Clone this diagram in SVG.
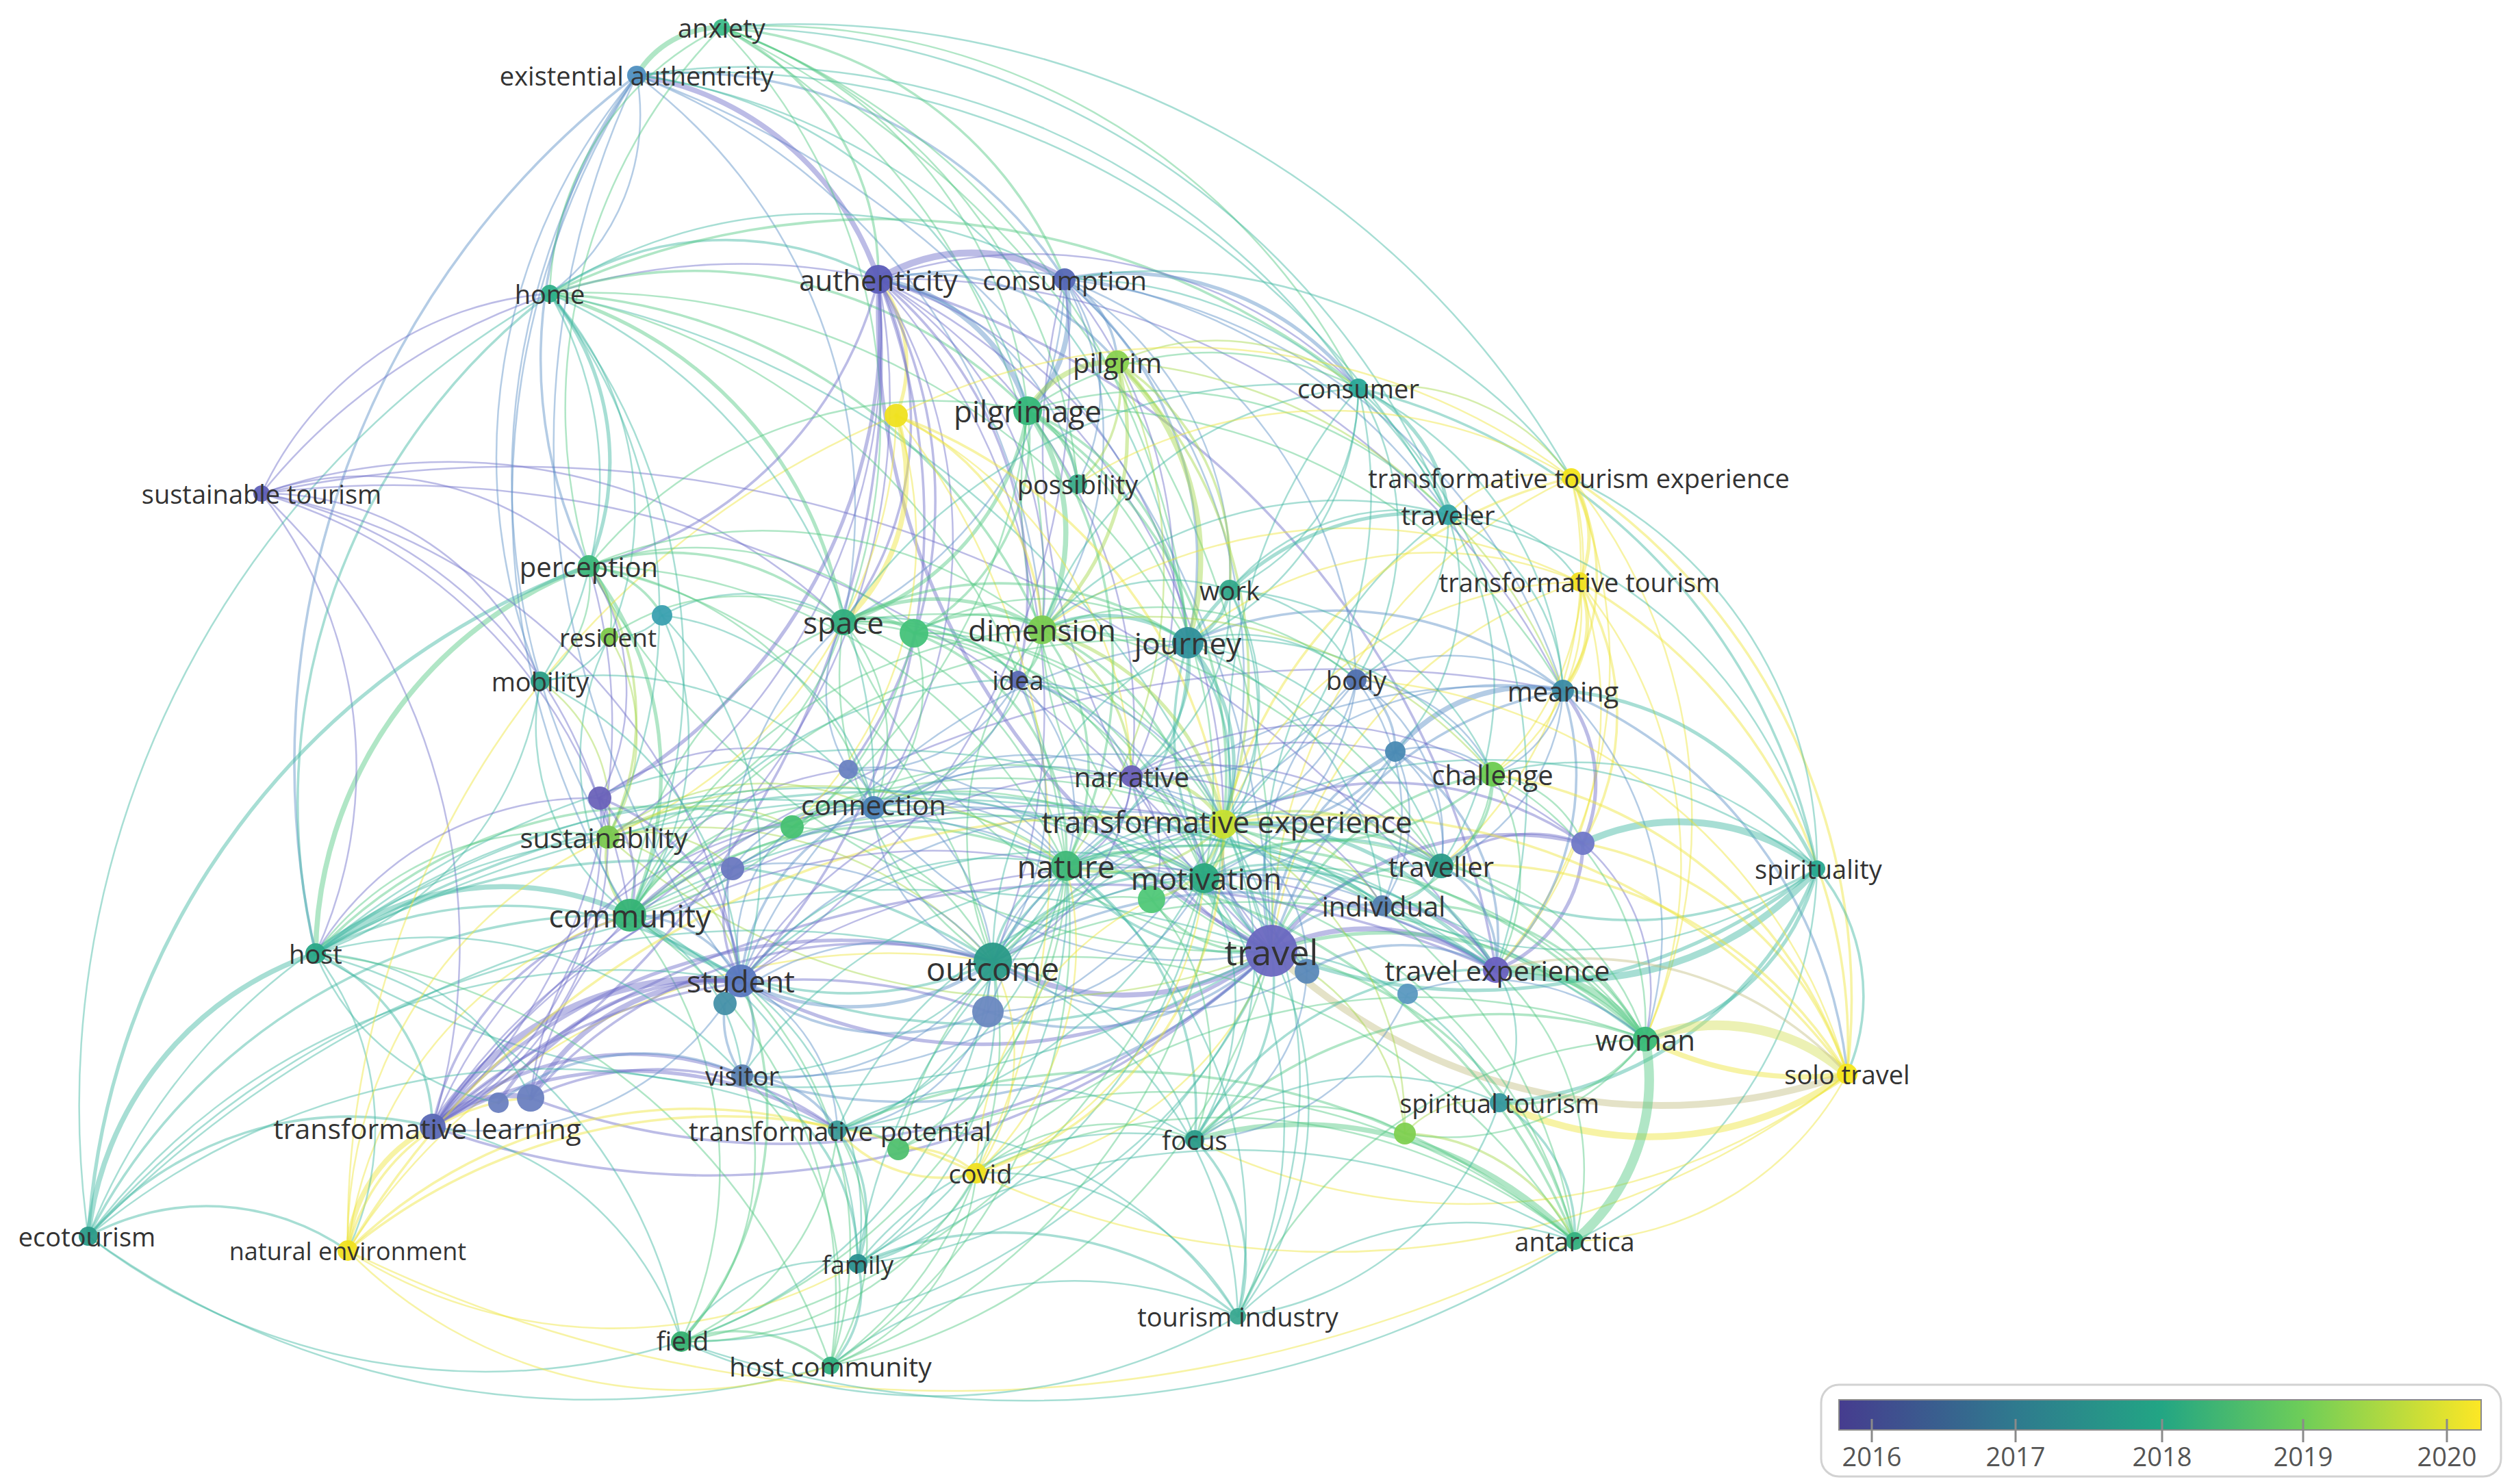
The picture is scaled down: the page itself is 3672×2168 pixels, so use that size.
<svg xmlns="http://www.w3.org/2000/svg" width="3672" height="2168" viewBox="0 0 3672 2168">
<defs>
<linearGradient id="vir" x1="0" y1="0" x2="1" y2="0">
<stop offset="0" stop-color="#463c8f"/>
<stop offset="0.275" stop-color="#2f7a8e"/>
<stop offset="0.5" stop-color="#22a584"/>
<stop offset="0.72" stop-color="#6dcd59"/>
<stop offset="1" stop-color="#fde725"/>
</linearGradient>
<style>
.e path{fill:none;stroke-linecap:round;stroke-opacity:.46}
.p{stroke:#6d6ec8}.b{stroke:#5b8fc6}.t{stroke:#3fb7a2}.g{stroke:#52c883}.l{stroke:#a3d84a}.y{stroke:#ede43a}.n{stroke:#c4bf86}.ly{stroke:#d6e15c}
.w1{stroke-width:2.5}.w2{stroke-width:3.6}.w3{stroke-width:5.2}.w4{stroke-width:7.5}.w5{stroke-width:10}.w6{stroke-width:14}
.nd circle{fill-opacity:.95}
.nd text{font-family:"Open Sans","DejaVu Sans",sans-serif;fill:#333;text-anchor:middle;dominant-baseline:central}
.lg text{font-family:"Open Sans","DejaVu Sans",sans-serif;fill:#555;font-size:38px;text-anchor:middle;dominant-baseline:central}
</style>
</defs>
<rect width="3672" height="2168" fill="#ffffff"/>
<g id="connectors" class="e">
<path class="p w4" d="M1857 1389A396 396 0 0 1 1450 1405"/>
<path class="p w4" d="M1857 1389A324 324 0 0 1 2185 1417"/>
<path class="b w3" d="M1857 1389A202 202 0 0 1 1787 1204"/>
<path class="t w3" d="M1857 1389A144 144 0 0 1 1759 1283"/>
<path class="t w2" d="M1857 1389A324 324 0 0 1 1557 1265"/>
<path class="p w3" d="M1857 1389A720 720 0 0 1 1082 1433"/>
<path class="t w2" d="M1857 1389A900 900 0 0 1 920 1337"/>
<path class="p w2" d="M1857 1389A1188 1188 0 0 1 632 1646"/>
<path class="g w3" d="M1857 1389A540 540 0 0 1 2403 1518"/>
<path class="n w5" d="M2698 1569A828 828 0 0 1 1857 1389"/>
<path class="t w3" d="M2654 1269A792 792 0 0 1 1857 1389"/>
<path class="b w2" d="M1857 1389A180 180 0 0 1 2019 1323"/>
<path class="t w2" d="M1857 1389A266 266 0 0 1 2105 1265"/>
<path class="b w1" d="M1857 1389A396 396 0 0 1 1981 993"/>
<path class="b w2" d="M1857 1389A540 540 0 0 1 2283 1009"/>
<path class="t w2" d="M1857 1389A432 432 0 0 1 1735 939"/>
<path class="g w1" d="M1857 1389A518 518 0 0 1 1522 920"/>
<path class="p w3" d="M1857 1389A1044 1044 0 0 1 1283 408"/>
<path class="p w1" d="M1857 1389A972 972 0 0 1 1555 408"/>
<path class="g w1" d="M1857 1389A792 792 0 0 1 1501 600"/>
<path class="t w2" d="M1857 1389A288 288 0 0 1 1745 1665"/>
<path class="g w2" d="M1857 1389A576 576 0 0 1 2300 1813"/>
<path class="t w1" d="M1857 1389A396 396 0 0 1 2190 1611"/>
<path class="t w1" d="M1857 1389A504 504 0 0 1 1808 1923"/>
<path class="b w2" d="M1857 1389A756 756 0 0 1 1084 1571"/>
<path class="t w1" d="M1857 1389A1332 1332 0 0 1 461 1393"/>
<path class="t w1" d="M129 1806A1656 1656 0 0 1 1857 1389"/>
<path class="t w1" d="M1857 1389A720 720 0 0 1 1253 1846"/>
<path class="y w1" d="M1857 1389A504 504 0 0 1 1426 1714"/>
<path class="l w1" d="M1857 1389A936 936 0 0 1 888 1223"/>
<path class="g w1" d="M1857 1389A1080 1080 0 0 1 860 827"/>
<path class="g w2" d="M1857 1389A403 403 0 0 1 2180 1131"/>
<path class="p w3" d="M1857 1389A446 446 0 0 1 2312 1232"/>
<path class="y w1" d="M1857 1389A756 756 0 0 1 2295 698"/>
<path class="y w1" d="M1857 1389A662 662 0 0 1 2307 850"/>
<path class="t w1" d="M1857 1389A792 792 0 0 1 1984 567"/>
<path class="t w1" d="M1857 1389A648 648 0 0 1 2115 752"/>
<path class="g w1" d="M1857 1389A756 756 0 0 1 1232 909"/>
<path class="b w1" d="M930 110A1404 1404 0 0 1 1857 1389"/>
<path class="t w1" d="M803 429A1368 1368 0 0 1 1857 1389"/>
<path class="g w1" d="M1054 40A1440 1440 0 0 1 1857 1389"/>
<path class="g w1" d="M1857 1389A828 828 0 0 1 1213 1995"/>
<path class="t w1" d="M1857 1389A936 936 0 0 1 995 1960"/>
<path class="b w2" d="M1857 1389A324 324 0 0 1 2038 1098"/>
<path class="p w2" d="M1857 1389A324 324 0 0 1 1653 1134"/>
<path class="b w2" d="M1857 1389A403 403 0 0 1 1443 1478"/>
<path class="g w2" d="M1857 1389A187 187 0 0 1 1682 1314"/>
<path class="b w1" d="M1857 1389A576 576 0 0 1 1276 1180"/>
<path class="p w2" d="M1857 1389A1044 1044 0 0 1 775 1604"/>
<path class="l w1" d="M1857 1389A324 324 0 0 1 2052 1656"/>
<path class="b w3" d="M1450 1405A360 360 0 0 1 1082 1433"/>
<path class="t w2" d="M1450 1405A504 504 0 0 1 920 1337"/>
<path class="t w2" d="M1450 1405A374 374 0 0 1 1787 1204"/>
<path class="t w2" d="M1450 1405A180 180 0 0 1 1557 1265"/>
<path class="p w3" d="M632 1646A792 792 0 0 1 1450 1405"/>
<path class="t w1" d="M1450 1405A310 310 0 0 1 1223 1651"/>
<path class="b w1" d="M1450 1405A374 374 0 0 1 1084 1571"/>
<path class="t w1" d="M1450 1405A461 461 0 0 1 1253 1846"/>
<path class="g w1" d="M1450 1405A590 590 0 0 1 1213 1995"/>
<path class="t w1" d="M1450 1405A670 670 0 0 1 995 1960"/>
<path class="t w1" d="M1450 1405A576 576 0 0 1 1808 1923"/>
<path class="t w1" d="M1450 1405A382 382 0 0 1 1745 1665"/>
<path class="b w1" d="M1450 1405A252 252 0 0 1 1276 1180"/>
<path class="g w1" d="M1450 1405A468 468 0 0 1 1522 920"/>
<path class="g w1" d="M1450 1405A504 504 0 0 1 1232 909"/>
<path class="p w1" d="M1283 408A936 936 0 0 1 1450 1405"/>
<path class="t w2" d="M461 1393A936 936 0 0 1 1450 1405"/>
<path class="g w1" d="M1450 1405A900 900 0 0 1 2403 1518"/>
<path class="g w1" d="M1450 1405A864 864 0 0 1 2300 1813"/>
<path class="b w2" d="M1450 1405A684 684 0 0 1 2185 1417"/>
<path class="b w1" d="M1450 1405A864 864 0 0 1 2283 1009"/>
<path class="l w1" d="M888 1223A576 576 0 0 1 1450 1405"/>
<path class="g w1" d="M860 827A756 756 0 0 1 1450 1405"/>
<path class="t w1" d="M129 1806A1296 1296 0 0 1 1450 1405"/>
<path class="y w1" d="M508 1827A936 936 0 0 1 1450 1405"/>
<path class="b w1" d="M1450 1405A540 540 0 0 1 2019 1323"/>
<path class="t w2" d="M1450 1405A324 324 0 0 1 1759 1283"/>
<path class="y w1" d="M1450 1405A302 302 0 0 1 1426 1714"/>
<path class="t w4" d="M461 1393A432 432 0 0 1 920 1337"/>
<path class="b w2" d="M920 1337A187 187 0 0 1 1082 1433"/>
<path class="l w2" d="M920 1337A122 122 0 0 1 888 1223"/>
<path class="g w3" d="M860 827A490 490 0 0 1 920 1337"/>
<path class="t w1" d="M920 1337A396 396 0 0 1 890 930"/>
<path class="t w1" d="M920 1337A346 346 0 0 1 789 995"/>
<path class="p w2" d="M632 1646A403 403 0 0 1 920 1337"/>
<path class="g w1" d="M920 1337A662 662 0 0 1 1213 1995"/>
<path class="g w1" d="M920 1337A590 590 0 0 1 995 1960"/>
<path class="y w1" d="M508 1827A576 576 0 0 1 920 1337"/>
<path class="t w2" d="M129 1806A864 864 0 0 1 920 1337"/>
<path class="g w1" d="M920 1337A828 828 0 0 1 1787 1204"/>
<path class="t w1" d="M920 1337A1188 1188 0 0 1 2185 1417"/>
<path class="t w1" d="M920 1337A288 288 0 0 1 1084 1571"/>
<path class="t w1" d="M920 1337A576 576 0 0 1 1253 1846"/>
<path class="g w1" d="M920 1337A504 504 0 0 1 1232 909"/>
<path class="g w1" d="M920 1337A360 360 0 0 1 1276 1180"/>
<path class="g w2" d="M920 1337A612 612 0 0 1 1557 1265"/>
<path class="g w1" d="M920 1337A792 792 0 0 1 1759 1283"/>
<path class="p w5" d="M632 1646A475 475 0 0 1 1082 1433"/>
<path class="p w4" d="M775 1604A331 331 0 0 1 1082 1433"/>
<path class="p w3" d="M728 1611A382 382 0 0 1 1082 1433"/>
<path class="b w2" d="M1082 1433A144 144 0 0 1 1084 1571"/>
<path class="t w2" d="M461 1393A590 590 0 0 1 1082 1433"/>
<path class="b w1" d="M1082 1433A252 252 0 0 1 1223 1651"/>
<path class="b w1" d="M1082 1433A720 720 0 0 1 1787 1204"/>
<path class="t w1" d="M1082 1433A648 648 0 0 1 1759 1283"/>
<path class="t w1" d="M1082 1433A475 475 0 0 1 1557 1265"/>
<path class="t w1" d="M129 1806A972 972 0 0 1 1082 1433"/>
<path class="l w1" d="M888 1223A259 259 0 0 1 1082 1433"/>
<path class="b w2" d="M1082 1433A302 302 0 0 1 1276 1180"/>
<path class="p w2" d="M1082 1433A187 187 0 0 1 1070 1269"/>
<path class="p w1" d="M1082 1433A1044 1044 0 0 1 2185 1417"/>
<path class="p w4" d="M632 1646A158 158 0 0 1 775 1604"/>
<path class="t w2" d="M461 1393A288 288 0 0 1 632 1646"/>
<path class="t w2" d="M129 1806A504 504 0 0 1 632 1646"/>
<path class="y w4" d="M508 1827A216 216 0 0 1 632 1646"/>
<path class="p w3" d="M632 1646A446 446 0 0 1 1084 1571"/>
<path class="p w3" d="M632 1646A562 562 0 0 1 1223 1651"/>
<path class="p w1" d="M382 721A900 900 0 0 1 632 1646"/>
<path class="p w1" d="M860 827A792 792 0 0 1 632 1646"/>
<path class="p w1" d="M888 1223A475 475 0 0 1 632 1646"/>
<path class="p w1" d="M632 1646A756 756 0 0 1 1276 1180"/>
<path class="p w2" d="M1283 408A1296 1296 0 0 1 632 1646"/>
<path class="t w1" d="M632 1646A461 461 0 0 1 995 1960"/>
<path class="p w2" d="M632 1646A1476 1476 0 0 1 2185 1417"/>
<path class="p w2" d="M632 1646A792 792 0 0 1 1443 1478"/>
<path class="p w1" d="M632 1646A1656 1656 0 0 1 2283 1009"/>
<path class="p w1" d="M632 1646A864 864 0 0 1 1557 1265"/>
<path class="p w1" d="M632 1646A1116 1116 0 0 1 1787 1204"/>
<path class="p w2" d="M775 1604A648 648 0 0 1 1450 1405"/>
<path class="p w1" d="M775 1604A540 540 0 0 1 1276 1180"/>
<path class="p w1" d="M775 1604A540 540 0 0 1 1239 1124"/>
<path class="b w2" d="M728 1611A346 346 0 0 1 1084 1571"/>
<path class="p w2" d="M775 1604A432 432 0 0 1 1223 1651"/>
<path class="t w1" d="M728 1611A360 360 0 0 1 461 1393"/>
<path class="t w4" d="M129 1806A490 490 0 0 1 461 1393"/>
<path class="g w4" d="M461 1393A612 612 0 0 1 860 827"/>
<path class="p w1" d="M382 721A648 648 0 0 1 461 1393"/>
<path class="b w2" d="M461 1393A1260 1260 0 0 1 930 110"/>
<path class="t w2" d="M461 1393A936 936 0 0 1 803 429"/>
<path class="t w1" d="M461 1393A418 418 0 0 1 508 1827"/>
<path class="t w2" d="M461 1393A1620 1620 0 0 1 2185 1417"/>
<path class="t w1" d="M461 1393A1800 1800 0 0 1 2403 1518"/>
<path class="t w1" d="M789 995A490 490 0 0 1 461 1393"/>
<path class="g w1" d="M461 1393A432 432 0 0 1 888 1223"/>
<path class="g w1" d="M461 1393A900 900 0 0 1 1213 1995"/>
<path class="t w1" d="M461 1393A720 720 0 0 1 995 1960"/>
<path class="t w1" d="M461 1393A360 360 0 0 1 775 1604"/>
<path class="g w2" d="M461 1393A684 684 0 0 1 1157 1208"/>
<path class="t w1" d="M461 1393A1260 1260 0 0 1 1787 1204"/>
<path class="t w2" d="M129 1806A360 360 0 0 1 508 1827"/>
<path class="t w3" d="M129 1806A1116 1116 0 0 1 860 827"/>
<path class="t w1" d="M1213 1995A1250 1250 0 0 1 129 1806"/>
<path class="t w1" d="M995 1960A950 950 0 0 1 129 1806"/>
<path class="t w1" d="M129 1806A936 936 0 0 1 888 1223"/>
<path class="t w1" d="M129 1806A1044 1044 0 0 1 1223 1651"/>
<path class="t w1" d="M129 1806A1368 1368 0 0 1 803 429"/>
<path class="y w2" d="M508 1827A720 720 0 0 1 1223 1651"/>
<path class="y w1" d="M2300 1813A2000 2000 0 0 1 508 1827"/>
<path class="y w2" d="M508 1827A864 864 0 0 1 1426 1714"/>
<path class="y w1" d="M1253 1846A720 720 0 0 1 508 1827"/>
<path class="y w1" d="M508 1827A648 648 0 0 1 888 1223"/>
<path class="y w2" d="M508 1827A1296 1296 0 0 1 1787 1204"/>
<path class="y w1" d="M1213 1995A684 684 0 0 1 508 1827"/>
<path class="y w2" d="M508 1827A288 288 0 0 1 775 1604"/>
<path class="y w1" d="M508 1827A1296 1296 0 0 1 1309 607"/>
<path class="p w1" d="M382 721A756 756 0 0 1 920 1337"/>
<path class="p w1" d="M382 721A468 468 0 0 1 860 827"/>
<path class="p w1" d="M382 721A900 900 0 0 1 1283 408"/>
<path class="p w1" d="M382 721A1764 1764 0 0 1 2185 1417"/>
<path class="p w1" d="M382 721A1548 1548 0 0 1 1857 1389"/>
<path class="p w1" d="M382 721A504 504 0 0 1 803 429"/>
<path class="p w1" d="M382 721A648 648 0 0 1 888 1223"/>
<path class="p w1" d="M382 721A828 828 0 0 1 1232 909"/>
<path class="p w1" d="M382 721A432 432 0 0 1 789 995"/>
<path class="p w1" d="M382 721A864 864 0 0 1 1082 1433"/>
<path class="p w4" d="M930 110A446 446 0 0 1 1283 408"/>
<path class="g w4" d="M930 110A144 144 0 0 1 1054 40"/>
<path class="b w1" d="M930 110A324 324 0 0 1 803 429"/>
<path class="b w2" d="M860 827A684 684 0 0 1 930 110"/>
<path class="t w1" d="M930 110A1080 1080 0 0 1 1984 567"/>
<path class="b w2" d="M930 110A662 662 0 0 1 1555 408"/>
<path class="b w1" d="M930 110A792 792 0 0 1 1232 909"/>
<path class="b w1" d="M888 1223A1044 1044 0 0 1 930 110"/>
<path class="b w1" d="M789 995A864 864 0 0 1 930 110"/>
<path class="b w1" d="M920 1337A1152 1152 0 0 1 930 110"/>
<path class="b w1" d="M930 110A936 936 0 0 1 1522 920"/>
<path class="t w1" d="M930 110A936 936 0 0 1 1735 939"/>
<path class="t w1" d="M930 110A1224 1224 0 0 1 2115 752"/>
<path class="b w1" d="M1082 1433A1260 1260 0 0 1 930 110"/>
<path class="t w1" d="M930 110A670 670 0 0 1 1501 600"/>
<path class="g w2" d="M1054 40A403 403 0 0 1 1283 408"/>
<path class="g w2" d="M1054 40A590 590 0 0 1 1555 408"/>
<path class="g w1" d="M1054 40A972 972 0 0 1 1984 567"/>
<path class="t w1" d="M1054 40A1152 1152 0 0 1 2115 752"/>
<path class="g w1" d="M1054 40A662 662 0 0 1 1501 600"/>
<path class="g w1" d="M1054 40A1044 1044 0 0 1 1735 939"/>
<path class="g w1" d="M1054 40A828 828 0 0 1 1232 909"/>
<path class="g w1" d="M803 429A446 446 0 0 1 1054 40"/>
<path class="g w1" d="M1054 40A778 778 0 0 1 1574 707"/>
<path class="g w1" d="M1054 40A936 936 0 0 1 1522 920"/>
<path class="t w1" d="M1054 40A1296 1296 0 0 1 2295 698"/>
<path class="g w1" d="M860 827A792 792 0 0 1 1054 40"/>
<path class="t w2" d="M803 429A461 461 0 0 1 1283 408"/>
<path class="t w3" d="M803 429A389 389 0 0 1 860 827"/>
<path class="g w3" d="M803 429A598 598 0 0 1 1232 909"/>
<path class="g w2" d="M803 429A684 684 0 0 1 1501 600"/>
<path class="t w1" d="M803 429A720 720 0 0 1 1555 408"/>
<path class="t w1" d="M803 429A864 864 0 0 1 920 1337"/>
<path class="t w1" d="M803 429A540 540 0 0 1 789 995"/>
<path class="t w1" d="M803 429A756 756 0 0 1 888 1223"/>
<path class="g w2" d="M803 429A828 828 0 0 1 1522 920"/>
<path class="g w1" d="M803 429A1008 1008 0 0 1 1735 939"/>
<path class="t w1" d="M803 429A792 792 0 0 1 1276 1180"/>
<path class="t w1" d="M803 429A468 468 0 0 1 890 930"/>
<path class="g w2" d="M803 429A1116 1116 0 0 1 1984 567"/>
<path class="g w1" d="M803 429A936 936 0 0 1 1557 1265"/>
<path class="p w5" d="M1283 408A259 259 0 0 1 1555 408"/>
<path class="b w4" d="M1283 408A274 274 0 0 1 1501 600"/>
<path class="y w3" d="M1283 408A202 202 0 0 1 1309 607"/>
<path class="p w2" d="M1283 408A482 482 0 0 1 1232 909"/>
<path class="p w2" d="M1283 408A972 972 0 0 1 1082 1433"/>
<path class="p w1" d="M1283 408A936 936 0 0 1 920 1337"/>
<path class="p w1" d="M1283 408A533 533 0 0 1 1522 920"/>
<path class="p w1" d="M1283 408A648 648 0 0 1 1735 939"/>
<path class="p w2" d="M1283 408A590 590 0 0 1 1487 993"/>
<path class="p w1" d="M1283 408A756 756 0 0 1 1653 1134"/>
<path class="p w1" d="M1283 408A878 878 0 0 1 1787 1204"/>
<path class="p w1" d="M1283 408A684 684 0 0 1 1984 567"/>
<path class="b w1" d="M1283 408A828 828 0 0 1 2115 752"/>
<path class="p w1" d="M1283 408A1080 1080 0 0 1 2283 1009"/>
<path class="p w2" d="M1283 408A670 670 0 0 1 1239 1124"/>
<path class="p w2" d="M1283 408A1260 1260 0 0 1 2185 1417"/>
<path class="b w1" d="M1283 408A374 374 0 0 1 1574 707"/>
<path class="b w2" d="M1283 408A360 360 0 0 1 1632 529"/>
<path class="p w1" d="M1283 408A720 720 0 0 1 1276 1180"/>
<path class="p w1" d="M1283 408A864 864 0 0 1 888 1223"/>
<path class="p w3" d="M1283 408A792 792 0 0 1 876 1166"/>
<path class="p w2" d="M1283 408A576 576 0 0 1 860 827"/>
<path class="b w4" d="M1555 408A202 202 0 0 1 1501 600"/>
<path class="b w2" d="M1555 408A144 144 0 0 1 1632 529"/>
<path class="b w3" d="M1555 408A432 432 0 0 1 1984 567"/>
<path class="b w2" d="M1555 408A533 533 0 0 1 1735 939"/>
<path class="b w1" d="M1555 408A778 778 0 0 1 1787 1204"/>
<path class="t w1" d="M1555 408A612 612 0 0 1 2115 752"/>
<path class="t w1" d="M1555 408A756 756 0 0 1 2295 698"/>
<path class="b w1" d="M1555 408A864 864 0 0 1 2283 1009"/>
<path class="b w1" d="M1555 408A662 662 0 0 1 1981 993"/>
<path class="b w1" d="M1555 408A490 490 0 0 1 1522 920"/>
<path class="b w1" d="M1555 408A576 576 0 0 1 1232 909"/>
<path class="p w1" d="M1555 408A691 691 0 0 1 1653 1134"/>
<path class="b w1" d="M1555 408A288 288 0 0 1 1574 707"/>
<path class="b w1" d="M1555 408A504 504 0 0 1 1796 862"/>
<path class="p w1" d="M1555 408A1080 1080 0 0 1 1082 1433"/>
<path class="l w4" d="M1501 600A144 144 0 0 1 1632 529"/>
<path class="l w4" d="M1632 529A403 403 0 0 1 1735 939"/>
<path class="l w3" d="M1632 529A389 389 0 0 1 1522 920"/>
<path class="l w2" d="M1632 529A360 360 0 0 1 1796 862"/>
<path class="l w2" d="M1632 529A648 648 0 0 1 1787 1204"/>
<path class="l w1" d="M1632 529A346 346 0 0 1 1984 567"/>
<path class="l w1" d="M1632 529A756 756 0 0 1 2283 1009"/>
<path class="l w2" d="M1632 529A187 187 0 0 1 1574 707"/>
<path class="l w1" d="M1632 529A720 720 0 0 1 1557 1265"/>
<path class="g w4" d="M1501 600A310 310 0 0 1 1522 920"/>
<path class="g w3" d="M1501 600A130 130 0 0 1 1574 707"/>
<path class="g w3" d="M1501 600A389 389 0 0 1 1232 909"/>
<path class="g w2" d="M1501 600A389 389 0 0 1 1735 939"/>
<path class="g w2" d="M1501 600A634 634 0 0 1 1787 1204"/>
<path class="g w2" d="M1501 600A634 634 0 0 1 1557 1265"/>
<path class="g w1" d="M1501 600A691 691 0 0 1 1759 1283"/>
<path class="g w1" d="M1501 600A468 468 0 0 1 1984 567"/>
<path class="g w1" d="M1501 600A598 598 0 0 1 2115 752"/>
<path class="g w1" d="M860 827A648 648 0 0 1 1501 600"/>
<path class="g w1" d="M1501 600A864 864 0 0 1 920 1337"/>
<path class="g w1" d="M1501 600A828 828 0 0 1 2283 1009"/>
<path class="g w2" d="M1501 600A324 324 0 0 1 1335 925"/>
<path class="y w4" d="M1309 607A288 288 0 0 1 1232 909"/>
<path class="y w2" d="M1309 607A734 734 0 0 1 1787 1204"/>
<path class="y w2" d="M1309 607A360 360 0 0 1 1522 920"/>
<path class="y w1" d="M1309 607A684 684 0 0 1 888 1223"/>
<path class="y w1" d="M1309 607A936 936 0 0 1 2295 698"/>
<path class="y w1" d="M1309 607A612 612 0 0 1 1653 1134"/>
<path class="y w1" d="M1309 607A576 576 0 0 1 1157 1208"/>
<path class="y w1" d="M1309 607A1044 1044 0 0 1 1426 1714"/>
<path class="t w3" d="M1984 567A223 223 0 0 1 2115 752"/>
<path class="l w1" d="M1984 567A324 324 0 0 1 2295 698"/>
<path class="t w1" d="M1984 567A410 410 0 0 1 1735 939"/>
<path class="t w1" d="M1984 567A410 410 0 0 1 1981 993"/>
<path class="t w1" d="M1984 567A526 526 0 0 1 2283 1009"/>
<path class="t w2" d="M1984 567A900 900 0 0 1 2654 1269"/>
<path class="t w1" d="M1984 567A324 324 0 0 1 1796 862"/>
<path class="t w1" d="M1984 567A648 648 0 0 1 1787 1204"/>
<path class="t w1" d="M1984 567A814 814 0 0 1 2185 1417"/>
<path class="t w1" d="M1522 920A533 533 0 0 1 1984 567"/>
<path class="t w1" d="M1232 909A792 792 0 0 1 1984 567"/>
<path class="y w3" d="M2295 698A158 158 0 0 1 2307 850"/>
<path class="y w1" d="M2115 752A187 187 0 0 1 2295 698"/>
<path class="y w2" d="M2295 698A914 914 0 0 1 2698 1569"/>
<path class="t w1" d="M2295 698A626 626 0 0 1 2654 1269"/>
<path class="y w2" d="M2295 698A302 302 0 0 1 2283 1009"/>
<path class="y w1" d="M2295 698A432 432 0 0 1 2180 1131"/>
<path class="y w2" d="M1787 1204A691 691 0 0 1 2295 698"/>
<path class="y w1" d="M2295 698A684 684 0 0 1 2185 1417"/>
<path class="y w1" d="M2295 698A792 792 0 0 1 2403 1518"/>
<path class="y w1" d="M1574 707A684 684 0 0 1 2295 698"/>
<path class="y w1" d="M2295 698A576 576 0 0 1 2105 1265"/>
<path class="y w3" d="M2307 850A158 158 0 0 1 2283 1009"/>
<path class="y w2" d="M2307 850A778 778 0 0 1 2698 1569"/>
<path class="y w1" d="M2307 850A288 288 0 0 1 2180 1131"/>
<path class="y w1" d="M1787 1204A576 576 0 0 1 2307 850"/>
<path class="t w1" d="M2115 752A216 216 0 0 1 2307 850"/>
<path class="y w1" d="M2307 850A554 554 0 0 1 2185 1417"/>
<path class="y w1" d="M2307 850A648 648 0 0 1 2403 1518"/>
<path class="y w2" d="M2307 850A374 374 0 0 1 2312 1232"/>
<path class="y w1" d="M1735 939A554 554 0 0 1 2307 850"/>
<path class="y w1" d="M1522 920A756 756 0 0 1 2307 850"/>
<path class="t w3" d="M1735 939A396 396 0 0 1 2115 752"/>
<path class="t w1" d="M2115 752A302 302 0 0 1 2283 1009"/>
<path class="t w1" d="M2115 752A266 266 0 0 1 1981 993"/>
<path class="t w1" d="M2115 752A490 490 0 0 1 2105 1265"/>
<path class="t w1" d="M2115 752A346 346 0 0 1 2038 1098"/>
<path class="t w1" d="M2115 752A684 684 0 0 1 2654 1269"/>
<path class="t w1" d="M1522 920A598 598 0 0 1 2115 752"/>
<path class="t w1" d="M1796 862A331 331 0 0 1 2115 752"/>
<path class="b w4" d="M2038 1098A252 252 0 0 1 2283 1009"/>
<path class="t w3" d="M2283 1009A446 446 0 0 1 2654 1269"/>
<path class="b w2" d="M2283 1009A677 677 0 0 1 2698 1569"/>
<path class="p w3" d="M2283 1009A216 216 0 0 1 2312 1232"/>
<path class="b w1" d="M2283 1009A166 166 0 0 1 2180 1131"/>
<path class="b w2" d="M2283 1009A403 403 0 0 1 2185 1417"/>
<path class="b w1" d="M2283 1009A504 504 0 0 1 2403 1518"/>
<path class="b w1" d="M2283 1009A302 302 0 0 1 2105 1265"/>
<path class="b w1" d="M1787 1204A504 504 0 0 1 2283 1009"/>
<path class="b w2" d="M1735 939A526 526 0 0 1 2283 1009"/>
<path class="b w1" d="M1981 993A288 288 0 0 1 2283 1009"/>
<path class="t w5" d="M2312 1232A331 331 0 0 1 2654 1269"/>
<path class="p w3" d="M2312 1232A202 202 0 0 1 2185 1417"/>
<path class="y w2" d="M2312 1232A504 504 0 0 1 2698 1569"/>
<path class="p w1" d="M2312 1232A288 288 0 0 1 2403 1518"/>
<path class="p w2" d="M2105 1265A209 209 0 0 1 2312 1232"/>
<path class="g w1" d="M2180 1131A173 173 0 0 1 2312 1232"/>
<path class="p w2" d="M1787 1204A504 504 0 0 1 2312 1232"/>
<path class="p w1" d="M1653 1134A648 648 0 0 1 2312 1232"/>
<path class="t w5" d="M2654 1269A475 475 0 0 1 2185 1417"/>
<path class="t w3" d="M2654 1269A338 338 0 0 1 2403 1518"/>
<path class="t w2" d="M2654 1269A288 288 0 0 1 2698 1569"/>
<path class="t w2" d="M2654 1269A526 526 0 0 1 2105 1265"/>
<path class="t w1" d="M2180 1131A468 468 0 0 1 2654 1269"/>
<path class="t w3" d="M2654 1269A540 540 0 0 1 2190 1611"/>
<path class="t w1" d="M2654 1269A619 619 0 0 1 2300 1813"/>
<path class="t w1" d="M1787 1204A821 821 0 0 1 2654 1269"/>
<path class="t w1" d="M2654 1269A612 612 0 0 1 2019 1323"/>
<path class="ly w6" d="M2403 1518A288 288 0 0 1 2698 1569"/>
<path class="y w4" d="M2698 1569A504 504 0 0 1 2403 1518"/>
<path class="y w5" d="M2698 1569A504 504 0 0 1 2190 1611"/>
<path class="n w2" d="M2185 1417A518 518 0 0 1 2698 1569"/>
<path class="y w2" d="M2180 1131A648 648 0 0 1 2698 1569"/>
<path class="y w1" d="M2698 1569A461 461 0 0 1 2300 1813"/>
<path class="y w1" d="M2698 1569A900 900 0 0 1 1745 1665"/>
<path class="y w1" d="M2698 1569A1224 1224 0 0 1 1426 1714"/>
<path class="y w2" d="M1787 1204A936 936 0 0 1 2698 1569"/>
<path class="y w2" d="M2105 1265A634 634 0 0 1 2698 1569"/>
<path class="y w1" d="M1981 993A792 792 0 0 1 2698 1569"/>
<path class="g w6" d="M2403 1518A310 310 0 0 1 2300 1813"/>
<path class="g w5" d="M2185 1417A245 245 0 0 1 2403 1518"/>
<path class="g w2" d="M2403 1518A230 230 0 0 1 2190 1611"/>
<path class="g w1" d="M2403 1518A360 360 0 0 1 2052 1656"/>
<path class="g w2" d="M1745 1665A634 634 0 0 1 2403 1518"/>
<path class="g w1" d="M1808 1923A684 684 0 0 1 2403 1518"/>
<path class="g w1" d="M2180 1131A410 410 0 0 1 2403 1518"/>
<path class="g w1" d="M2105 1265A374 374 0 0 1 2403 1518"/>
<path class="g w2" d="M1787 1204A648 648 0 0 1 2403 1518"/>
<path class="g w1" d="M1759 1283A634 634 0 0 1 2403 1518"/>
<path class="g w2" d="M1557 1265A828 828 0 0 1 2403 1518"/>
<path class="g w1" d="M1426 1714A936 936 0 0 1 2403 1518"/>
<path class="g w2" d="M2019 1323A396 396 0 0 1 2403 1518"/>
<path class="b w2" d="M2105 1265A158 158 0 0 1 2185 1417"/>
<path class="p w3" d="M2019 1323A187 187 0 0 1 2185 1417"/>
<path class="t w1" d="M2185 1417A187 187 0 0 1 2190 1611"/>
<path class="g w1" d="M2185 1417A396 396 0 0 1 2300 1813"/>
<path class="t w2" d="M1745 1665A482 482 0 0 1 2185 1417"/>
<path class="t w3" d="M1787 1204A432 432 0 0 1 2185 1417"/>
<path class="t w1" d="M1759 1283A432 432 0 0 1 2185 1417"/>
<path class="t w1" d="M1557 1265A619 619 0 0 1 2185 1417"/>
<path class="g w1" d="M2180 1131A288 288 0 0 1 2185 1417"/>
<path class="b w2" d="M2038 1098A324 324 0 0 1 2185 1417"/>
<path class="t w2" d="M2190 1611A223 223 0 0 1 2300 1813"/>
<path class="g w4" d="M1745 1665A554 554 0 0 1 2300 1813"/>
<path class="t w1" d="M1808 1923A475 475 0 0 1 2300 1813"/>
<path class="l w2" d="M2052 1656A288 288 0 0 1 2300 1813"/>
<path class="g w1" d="M1426 1714A828 828 0 0 1 2300 1813"/>
<path class="g w2" d="M1223 1651A1022 1022 0 0 1 2300 1813"/>
<path class="g w2" d="M1557 1265A878 878 0 0 1 2300 1813"/>
<path class="g w1" d="M1759 1283A720 720 0 0 1 2300 1813"/>
<path class="g w1" d="M1787 1204A756 756 0 0 1 2300 1813"/>
<path class="g w1" d="M1312 1679A936 936 0 0 1 2300 1813"/>
<path class="t w1" d="M1253 1846A994 994 0 0 1 2300 1813"/>
<path class="t w1" d="M2300 1813A1500 1500 0 0 1 995 1960"/>
<path class="t w2" d="M1745 1665A259 259 0 0 1 1808 1923"/>
<path class="g w1" d="M1426 1714A317 317 0 0 1 1745 1665"/>
<path class="g w1" d="M1745 1665A288 288 0 0 1 2052 1656"/>
<path class="t w1" d="M1745 1665A432 432 0 0 1 2190 1611"/>
<path class="t w1" d="M1223 1651A504 504 0 0 1 1745 1665"/>
<path class="t w1" d="M1253 1846A504 504 0 0 1 1745 1665"/>
<path class="t w1" d="M1759 1283A374 374 0 0 1 1745 1665"/>
<path class="t w2" d="M1557 1265A432 432 0 0 1 1745 1665"/>
<path class="t w1" d="M1787 1204A446 446 0 0 1 1745 1665"/>
<path class="t w2" d="M1253 1846A533 533 0 0 1 1808 1923"/>
<path class="t w1" d="M1213 1995A576 576 0 0 1 1808 1923"/>
<path class="t w1" d="M1426 1714A410 410 0 0 1 1808 1923"/>
<path class="t w1" d="M2190 1611A461 461 0 0 1 1808 1923"/>
<path class="t w1" d="M1557 1265A670 670 0 0 1 1808 1923"/>
<path class="t w1" d="M1787 1204A691 691 0 0 1 1808 1923"/>
<path class="t w1" d="M1759 1283A612 612 0 0 1 1808 1923"/>
<path class="t w1" d="M1223 1651A605 605 0 0 1 1808 1923"/>
<path class="t w1" d="M1808 1923A900 900 0 0 1 995 1960"/>
<path class="t w2" d="M1253 1846A158 158 0 0 1 1213 1995"/>
<path class="t w1" d="M995 1960A259 259 0 0 1 1253 1846"/>
<path class="t w2" d="M1223 1651A202 202 0 0 1 1253 1846"/>
<path class="t w2" d="M1084 1571A310 310 0 0 1 1253 1846"/>
<path class="t w1" d="M1426 1714A230 230 0 0 1 1253 1846"/>
<path class="t w1" d="M1759 1283A720 720 0 0 1 1253 1846"/>
<path class="t w1" d="M1557 1265A626 626 0 0 1 1253 1846"/>
<path class="t w1" d="M1082 1433A432 432 0 0 1 1253 1846"/>
<path class="g w2" d="M995 1960A216 216 0 0 1 1213 1995"/>
<path class="g w1" d="M1223 1651A331 331 0 0 1 1213 1995"/>
<path class="g w1" d="M1084 1571A425 425 0 0 1 1213 1995"/>
<path class="g w1" d="M1082 1433A547 547 0 0 1 1213 1995"/>
<path class="g w1" d="M1557 1265A756 756 0 0 1 1213 1995"/>
<path class="g w1" d="M1787 1204A900 900 0 0 1 1213 1995"/>
<path class="g w1" d="M1426 1714A338 338 0 0 1 1213 1995"/>
<path class="g w1" d="M1084 1571A389 389 0 0 1 995 1960"/>
<path class="g w2" d="M1082 1433A504 504 0 0 1 995 1960"/>
<path class="g w1" d="M1223 1651A374 374 0 0 1 995 1960"/>
<path class="g w1" d="M1557 1265A842 842 0 0 1 995 1960"/>
<path class="g w1" d="M1759 1283A986 986 0 0 1 995 1960"/>
<path class="g w1" d="M1426 1714A482 482 0 0 1 995 1960"/>
<path class="y w2" d="M1426 1714A202 202 0 0 1 1223 1651"/>
<path class="y w2" d="M1787 1204A518 518 0 0 1 1426 1714"/>
<path class="y w1" d="M1557 1265A454 454 0 0 1 1426 1714"/>
<path class="y w2" d="M1312 1679A144 144 0 0 1 1426 1714"/>
<path class="y w1" d="M1759 1283A511 511 0 0 1 1426 1714"/>
<path class="b w2" d="M1084 1571A166 166 0 0 1 1223 1651"/>
<path class="g w2" d="M1223 1651A108 108 0 0 1 1312 1679"/>
<path class="t w1" d="M1557 1265A504 504 0 0 1 1223 1651"/>
<path class="t w1" d="M1787 1204A706 706 0 0 1 1223 1651"/>
<path class="t w1" d="M461 1393A612 612 0 0 1 1084 1571"/>
<path class="t w1" d="M1557 1265A540 540 0 0 1 1084 1571"/>
<path class="b w1" d="M1787 1204A756 756 0 0 1 1084 1571"/>
<path class="b w2" d="M1084 1571A144 144 0 0 1 1059 1466"/>
<path class="g w3" d="M1232 909A288 288 0 0 1 1522 920"/>
<path class="g w3" d="M1232 909A108 108 0 0 1 1335 925"/>
<path class="g w2" d="M1232 909A482 482 0 0 1 1735 939"/>
<path class="g w1" d="M1232 909A461 461 0 0 1 1557 1265"/>
<path class="g w1" d="M1232 909A598 598 0 0 1 1787 1204"/>
<path class="g w2" d="M860 827A367 367 0 0 1 1232 909"/>
<path class="g w1" d="M1232 909A259 259 0 0 1 1276 1180"/>
<path class="g w1" d="M1232 909A605 605 0 0 1 1759 1283"/>
<path class="g w1" d="M1232 909A454 454 0 0 1 888 1223"/>
<path class="g w2" d="M1335 925A187 187 0 0 1 1522 920"/>
<path class="g w2" d="M1335 925A338 338 0 0 1 1557 1265"/>
<path class="g w1" d="M1335 925A490 490 0 0 1 1787 1204"/>
<path class="g w1" d="M1335 925A518 518 0 0 1 1759 1283"/>
<path class="g w1" d="M860 827A468 468 0 0 1 1335 925"/>
<path class="g w1" d="M1335 925A540 540 0 0 1 920 1337"/>
<path class="t w3" d="M1522 920A209 209 0 0 1 1735 939"/>
<path class="l w3" d="M1522 920A374 374 0 0 1 1787 1204"/>
<path class="g w2" d="M1522 920A331 331 0 0 1 1557 1265"/>
<path class="g w2" d="M1522 920A403 403 0 0 1 1759 1283"/>
<path class="l w2" d="M1522 920A245 245 0 0 1 1653 1134"/>
<path class="t w1" d="M1522 920A274 274 0 0 1 1796 862"/>
<path class="g w1" d="M860 827A648 648 0 0 1 1522 920"/>
<path class="g w1" d="M1522 920A346 346 0 0 1 1276 1180"/>
<path class="t w3" d="M1796 862A101 101 0 0 1 1735 939"/>
<path class="t w1" d="M1796 862A331 331 0 0 1 1787 1204"/>
<path class="t w1" d="M1796 862A216 216 0 0 1 1981 993"/>
<path class="t w1" d="M1796 862A302 302 0 0 1 1653 1134"/>
<path class="t w3" d="M1735 939A266 266 0 0 1 1787 1204"/>
<path class="t w2" d="M1735 939A202 202 0 0 1 1653 1134"/>
<path class="t w2" d="M1735 939A331 331 0 0 1 1759 1283"/>
<path class="t w1" d="M1735 939A252 252 0 0 1 1981 993"/>
<path class="t w1" d="M1735 939A461 461 0 0 1 2180 1131"/>
<path class="t w1" d="M1735 939A475 475 0 0 1 2105 1265"/>
<path class="t w2" d="M1735 939A367 367 0 0 1 1557 1265"/>
<path class="b w1" d="M1487 993A216 216 0 0 1 1653 1134"/>
<path class="b w1" d="M1487 993A266 266 0 0 1 1557 1265"/>
<path class="b w1" d="M1487 993A346 346 0 0 1 1787 1204"/>
<path class="b w1" d="M1487 993A274 274 0 0 1 1276 1180"/>
<path class="b w1" d="M1487 993A259 259 0 0 1 1239 1124"/>
<path class="b w2" d="M1981 993A122 122 0 0 1 2038 1098"/>
<path class="b w1" d="M1981 993A281 281 0 0 1 1787 1204"/>
<path class="b w1" d="M1981 993A245 245 0 0 1 2180 1131"/>
<path class="b w1" d="M1981 993A281 281 0 0 1 2105 1265"/>
<path class="b w1" d="M1981 993A324 324 0 0 1 2019 1323"/>
<path class="b w1" d="M2038 1098A144 144 0 0 1 2180 1131"/>
<path class="b w2" d="M2038 1098A252 252 0 0 1 1787 1204"/>
<path class="b w1" d="M2038 1098A173 173 0 0 1 2105 1265"/>
<path class="b w1" d="M2038 1098A230 230 0 0 1 2019 1323"/>
<path class="l w3" d="M1653 1134A144 144 0 0 1 1787 1204"/>
<path class="p w1" d="M1653 1134A144 144 0 0 1 1557 1265"/>
<path class="p w1" d="M1653 1134A173 173 0 0 1 1759 1283"/>
<path class="b w1" d="M1276 1180A374 374 0 0 1 1653 1134"/>
<path class="p w1" d="M1653 1134A511 511 0 0 1 2180 1131"/>
<path class="b w2" d="M1239 1124A72 72 0 0 1 1276 1180"/>
<path class="b w1" d="M1239 1124A216 216 0 0 1 1232 909"/>
<path class="p w1" d="M876 1166A360 360 0 0 1 1239 1124"/>
<path class="b w1" d="M1239 1124A331 331 0 0 1 1557 1265"/>
<path class="b w1" d="M1276 1180A281 281 0 0 1 1557 1265"/>
<path class="b w1" d="M1276 1180A490 490 0 0 1 1787 1204"/>
<path class="b w1" d="M1276 1180A461 461 0 0 1 1759 1283"/>
<path class="g w1" d="M1157 1208A144 144 0 0 1 1276 1180"/>
<path class="l w1" d="M888 1223A374 374 0 0 1 1276 1180"/>
<path class="b w1" d="M1070 1269A216 216 0 0 1 1276 1180"/>
<path class="p w2" d="M876 1166A72 72 0 0 1 888 1223"/>
<path class="l w2" d="M860 827A389 389 0 0 1 888 1223"/>
<path class="l w1" d="M890 930A281 281 0 0 1 888 1223"/>
<path class="l w1" d="M789 995A238 238 0 0 1 888 1223"/>
<path class="l w1" d="M888 1223A259 259 0 0 1 1157 1208"/>
<path class="l w1" d="M888 1223A187 187 0 0 1 1070 1269"/>
<path class="p w1" d="M860 827A331 331 0 0 1 876 1166"/>
<path class="p w2" d="M876 1166A173 173 0 0 1 920 1337"/>
<path class="p w2" d="M876 1166A317 317 0 0 1 1082 1433"/>
<path class="p w1" d="M876 1166A504 504 0 0 1 632 1646"/>
<path class="p w1" d="M461 1393A468 468 0 0 1 876 1166"/>
<path class="g w1" d="M1157 1208A389 389 0 0 1 1557 1265"/>
<path class="g w1" d="M1157 1208A605 605 0 0 1 1787 1204"/>
<path class="l w2" d="M1787 1204A230 230 0 0 1 1557 1265"/>
<path class="l w3" d="M1787 1204A86 86 0 0 1 1759 1283"/>
<path class="l w2" d="M1787 1204A317 317 0 0 1 2105 1265"/>
<path class="l w1" d="M1787 1204A252 252 0 0 1 2019 1323"/>
<path class="l w2" d="M1787 1204A137 137 0 0 1 1682 1314"/>
<path class="g w2" d="M1557 1265A194 194 0 0 1 1759 1283"/>
<path class="g w2" d="M1557 1265A115 115 0 0 1 1682 1314"/>
<path class="t w2" d="M1759 1283A338 338 0 0 1 2105 1265"/>
<path class="t w2" d="M2105 1265A101 101 0 0 1 2019 1323"/>
<path class="g w1" d="M860 827A108 108 0 0 1 890 930"/>
<path class="g w1" d="M860 827A180 180 0 0 1 789 995"/>
<path class="g w2" d="M860 827A144 144 0 0 1 967 899"/>
<path class="t w1" d="M890 930A122 122 0 0 1 789 995"/>
<path class="t w1" d="M967 899A86 86 0 0 1 890 930"/>
<path class="t w1" d="M967 899A259 259 0 0 1 1232 909"/>
<path class="t w1" d="M967 899A360 360 0 0 1 1276 1180"/>
<path class="t w1" d="M967 899A432 432 0 0 1 920 1337"/>
<path class="b w1" d="M1070 1269A389 389 0 0 1 1450 1405"/>
<path class="b w1" d="M1070 1269A158 158 0 0 1 920 1337"/>
<path class="b w1" d="M1070 1269A468 468 0 0 1 1557 1265"/>
<path class="g w2" d="M2180 1131A144 144 0 0 1 2105 1265"/>
<path class="g w1" d="M2180 1131A216 216 0 0 1 2019 1323"/>
<path class="g w2" d="M2180 1131A382 382 0 0 1 1787 1204"/>
<path class="b w2" d="M1443 1478A346 346 0 0 1 1082 1433"/>
<path class="b w1" d="M1443 1478A274 274 0 0 1 1223 1651"/>
<path class="b w1" d="M1443 1478A245 245 0 0 1 1557 1265"/>
<path class="b w1" d="M1443 1478A432 432 0 0 1 1787 1204"/>
<path class="b w2" d="M1909 1419A274 274 0 0 1 2185 1417"/>
<path class="b w1" d="M1909 1419A288 288 0 0 1 1745 1665"/>
<path class="b w1" d="M1909 1419A432 432 0 0 1 1450 1405"/>
<path class="b w1" d="M2056 1452A346 346 0 0 1 2403 1518"/>
<path class="b w1" d="M2056 1452A360 360 0 0 1 1745 1665"/>
<path class="l w1" d="M2052 1656A144 144 0 0 1 2190 1611"/>
<path class="l w1" d="M1787 1204A504 504 0 0 1 2052 1656"/>
<path class="g w1" d="M1682 1314A346 346 0 0 1 1745 1665"/>
<path class="b w1" d="M1059 1466A432 432 0 0 1 632 1646"/>
<path class="g w1" d="M1557 1265A468 468 0 0 1 1312 1679"/>
<path class="t w1" d="M1232 909A260 260 0 0 1 1487 993"/>
<path class="g w1" d="M1232 909A460 460 0 0 1 1653 1134"/>
<path class="g w1" d="M1335 925A250 250 0 0 1 1276 1180"/>
<path class="g w1" d="M1335 925A170 170 0 0 1 1487 993"/>
<path class="g w1" d="M1335 925A380 380 0 0 1 1735 939"/>
<path class="g w2" d="M1522 920A80 80 0 0 1 1487 993"/>
<path class="t w1" d="M1735 939A250 250 0 0 1 1487 993"/>
<path class="b w1" d="M1487 993A380 380 0 0 1 1759 1283"/>
<path class="b w1" d="M1487 993A400 400 0 0 1 1450 1405"/>
<path class="p w1" d="M1653 1134A330 330 0 0 1 1450 1405"/>
<path class="p w1" d="M1653 1134A180 180 0 0 1 1682 1314"/>
<path class="b w1" d="M1276 1180A410 410 0 0 1 1682 1314"/>
<path class="b w1" d="M1239 1124A340 340 0 0 1 1450 1405"/>
<path class="g w1" d="M1157 1208A340 340 0 0 1 1450 1405"/>
<path class="g w1" d="M1157 1208A580 580 0 0 1 1759 1283"/>
<path class="b w1" d="M1070 1269A660 660 0 0 1 1759 1283"/>
<path class="t w1" d="M1557 1265A520 520 0 0 1 2105 1265"/>
<path class="t w1" d="M1557 1265A450 450 0 0 1 2019 1323"/>
<path class="t w2" d="M1759 1283A250 250 0 0 1 2019 1323"/>
<path class="g w1" d="M1682 1314A410 410 0 0 1 2105 1265"/>
<path class="b w1" d="M1787 1204A240 240 0 0 1 1909 1419"/>
<path class="b w1" d="M1557 1265A370 370 0 0 1 1909 1419"/>
<path class="b w1" d="M1759 1283A200 200 0 0 1 1909 1419"/>
<path class="b w1" d="M1759 1283A360 360 0 0 1 1443 1478"/>
<path class="g w1" d="M1450 1405A240 240 0 0 1 1682 1314"/>
<path class="p w1" d="M1082 1433A620 620 0 0 1 1653 1134"/>
<path class="t w1" d="M920 1337A640 640 0 0 1 1487 993"/>
<path class="l w1" d="M888 1223A640 640 0 0 1 1557 1265"/>
<path class="g w1" d="M860 827A790 790 0 0 1 1557 1265"/>
<path class="g w1" d="M860 827A520 520 0 0 1 1276 1180"/>
<path class="g w1" d="M890 930A330 330 0 0 1 1232 909"/>
<path class="t w1" d="M789 995A500 500 0 0 1 1276 1180"/>
<path class="t w1" d="M789 995A510 510 0 0 1 1082 1433"/>
<path class="t w1" d="M967 899A530 530 0 0 1 1082 1433"/>
<path class="g w2" d="M920 1337A260 260 0 0 1 1157 1208"/>
<path class="g w1" d="M920 1337A700 700 0 0 1 1522 920"/>
<path class="b w1" d="M1082 1433A230 230 0 0 1 1157 1208"/>
<path class="b w1" d="M1082 1433A520 520 0 0 1 1232 909"/>
<path class="b w1" d="M1059 1466A380 380 0 0 1 1450 1405"/>
<path class="t w1" d="M1223 1651A630 630 0 0 1 1759 1283"/>
<path class="g w1" d="M1312 1679A650 650 0 0 1 1787 1204"/>
<path class="y w1" d="M1426 1714A460 460 0 0 1 1682 1314"/>
<path class="t w1" d="M1253 1846A800 800 0 0 1 1787 1204"/>
<path class="t w1" d="M461 1393A1060 1060 0 0 1 1557 1265"/>
<path class="t w1" d="M461 1393A1250 1250 0 0 1 1759 1283"/>
<path class="g w1" d="M920 1337A870 870 0 0 1 1735 939"/>
<path class="b w1" d="M1082 1433A790 790 0 0 1 1735 939"/>
<path class="t w1" d="M1450 1405A520 520 0 0 1 1735 939"/>
<path class="t w1" d="M1084 1571A700 700 0 0 1 1759 1283"/>
<path class="b w1" d="M1276 1180A800 800 0 0 1 2105 1265"/>
<path class="g w1" d="M1232 909A900 900 0 0 1 2105 1265"/>
<path class="g w1" d="M1522 920A650 650 0 0 1 2105 1265"/>
<path class="l w1" d="M1522 920A660 660 0 0 1 2180 1131"/>
<path class="g w1" d="M1522 920A450 450 0 0 1 1981 993"/>
<path class="t w1" d="M1735 939A460 460 0 0 1 2019 1323"/>
<path class="t w1" d="M1796 862A410 410 0 0 1 1759 1283"/>
<path class="t w1" d="M1796 862A450 450 0 0 1 2180 1131"/>
<path class="p w1" d="M1653 1134A450 450 0 0 1 2105 1265"/>
<path class="p w1" d="M1653 1134A400 400 0 0 1 2019 1323"/>
<path class="b w1" d="M1981 993A340 340 0 0 1 1653 1134"/>
<path class="b w1" d="M2038 1098A370 370 0 0 1 1653 1134"/>
<path class="b w1" d="M2038 1098A320 320 0 0 1 1759 1283"/>
<path class="b w1" d="M1981 993A350 350 0 0 1 1759 1283"/>
</g>
<g id="n-yA" class="nd"><circle cx="1309" cy="607" r="17" fill="#efe21f"/></g>
<g id="n-tR" class="nd"><circle cx="967" cy="899" r="15" fill="#3aa0b0"/></g>
<g id="n-gS" class="nd"><circle cx="1335" cy="925" r="21" fill="#45c27a"/></g>
<g id="n-tB" class="nd"><circle cx="2038" cy="1098" r="15" fill="#4a8ab3"/></g>
<g id="n-bC" class="nd"><circle cx="1239" cy="1124" r="14" fill="#6a82c2"/></g>
<g id="n-pS" class="nd"><circle cx="876" cy="1166" r="17" fill="#6a62b9"/></g>
<g id="n-gC" class="nd"><circle cx="1157" cy="1208" r="17" fill="#47c172"/></g>
<g id="n-pR" class="nd"><circle cx="2312" cy="1232" r="17" fill="#7078c8"/></g>
<g id="n-pL" class="nd"><circle cx="1070" cy="1269" r="17" fill="#6a78c0"/></g>
<g id="n-gM" class="nd"><circle cx="1682" cy="1314" r="20" fill="#50c878"/></g>
<g id="n-bT" class="nd"><circle cx="1909" cy="1419" r="18" fill="#5a88b8"/></g>
<g id="n-bO" class="nd"><circle cx="1443" cy="1478" r="23" fill="#6a88c0"/></g>
<g id="n-tSt" class="nd"><circle cx="1059" cy="1466" r="17" fill="#4590a8"/></g>
<g id="n-bTE" class="nd"><circle cx="2056" cy="1452" r="15" fill="#5a98c0"/></g>
<g id="n-gST" class="nd"><circle cx="2052" cy="1656" r="16" fill="#80d050"/></g>
<g id="n-b1" class="nd"><circle cx="728" cy="1611" r="15" fill="#6a80c0"/></g>
<g id="n-b2" class="nd"><circle cx="775" cy="1604" r="20" fill="#6a80c0"/></g>
<g id="n-gTP" class="nd"><circle cx="1312" cy="1679" r="16" fill="#50c070"/></g>
<g id="n-anxiety" class="nd"><circle cx="1054" cy="40" r="12" fill="#3dbb8a"/><text x="1054" y="40" font-size="38">anxiety</text></g>
<g id="n-existential-authenticity" class="nd"><circle cx="930" cy="110" r="14" fill="#4f8fc0"/><text x="930" y="110" font-size="38">existential authenticity</text></g>
<g id="n-home" class="nd"><circle cx="803" cy="429" r="13" fill="#2fb08a"/><text x="803" y="429" font-size="38">home</text></g>
<g id="n-authenticity" class="nd"><circle cx="1283" cy="408" r="21" fill="#5b5cb8"/><text x="1283" y="408" font-size="42">authenticity</text></g>
<g id="n-consumption" class="nd"><circle cx="1555" cy="408" r="16" fill="#5567b5"/><text x="1555" y="408" font-size="39">consumption</text></g>
<g id="n-pilgrim" class="nd"><circle cx="1632" cy="529" r="17" fill="#8ad24f"/><text x="1632" y="529" font-size="40">pilgrim</text></g>
<g id="n-pilgrimage" class="nd"><circle cx="1501" cy="600" r="21" fill="#35b779"/><text x="1501" y="600" font-size="44">pilgrimage</text></g>
<g id="n-consumer" class="nd"><circle cx="1984" cy="567" r="14" fill="#2aa898"/><text x="1984" y="567" font-size="38">consumer</text></g>
<g id="n-sustainable-tourism" class="nd"><circle cx="382" cy="721" r="12" fill="#6060b8"/><text x="382" y="721" font-size="38">sustainable tourism</text></g>
<g id="n-possibility" class="nd"><circle cx="1574" cy="707" r="14" fill="#3aab8a"/><text x="1574" y="707" font-size="38">possibility</text></g>
<g id="n-transformative-tourism-experience" class="nd"><circle cx="2295" cy="698" r="14" fill="#f2e41c"/><text x="2306" y="698" font-size="38">transformative tourism experience</text></g>
<g id="n-traveler" class="nd"><circle cx="2115" cy="752" r="15" fill="#35a5a5"/><text x="2115" y="752" font-size="38">traveler</text></g>
<g id="n-perception" class="nd"><circle cx="860" cy="827" r="16" fill="#3cb77a"/><text x="860" y="827" font-size="40">perception</text></g>
<g id="n-transformative-tourism" class="nd"><circle cx="2307" cy="850" r="14" fill="#f0e020"/><text x="2307" y="850" font-size="38">transformative tourism</text></g>
<g id="n-resident" class="nd"><circle cx="890" cy="930" r="13" fill="#7cc84a"/><text x="888" y="930" font-size="37">resident</text></g>
<g id="n-space" class="nd"><circle cx="1232" cy="909" r="19" fill="#30ae7e"/><text x="1232" y="909" font-size="44">space</text></g>
<g id="n-dimension" class="nd"><circle cx="1522" cy="920" r="21" fill="#7acb50"/><text x="1522" y="920" font-size="44">dimension</text></g>
<g id="n-work" class="nd"><circle cx="1796" cy="862" r="15" fill="#33a88a"/><text x="1796" y="862" font-size="38">work</text></g>
<g id="n-journey" class="nd"><circle cx="1735" cy="939" r="23" fill="#2f8f9a"/><text x="1735" y="939" font-size="44">journey</text></g>
<g id="n-mobility" class="nd"><circle cx="789" cy="995" r="14" fill="#2a9d85"/><text x="789" y="995" font-size="38">mobility</text></g>
<g id="n-idea" class="nd"><circle cx="1487" cy="993" r="13" fill="#5a68b5"/><text x="1487" y="993" font-size="38">idea</text></g>
<g id="n-body" class="nd"><circle cx="1981" cy="993" r="15" fill="#4f6fae"/><text x="1981" y="993" font-size="38">body</text></g>
<g id="n-meaning" class="nd"><circle cx="2283" cy="1009" r="16" fill="#3b8aa5"/><text x="2283" y="1009" font-size="40">meaning</text></g>
<g id="n-narrative" class="nd"><circle cx="1653" cy="1134" r="16" fill="#6a5fb8"/><text x="1653" y="1134" font-size="40">narrative</text></g>
<g id="n-challenge" class="nd"><circle cx="2180" cy="1131" r="18" fill="#6ccb50"/><text x="2180" y="1131" font-size="40">challenge</text></g>
<g id="n-connection" class="nd"><circle cx="1276" cy="1180" r="17" fill="#4a80b5"/><text x="1276" y="1175" font-size="41">connection</text></g>
<g id="n-sustainability" class="nd"><circle cx="888" cy="1223" r="17" fill="#7ac850"/><text x="882" y="1223" font-size="40">sustainability</text></g>
<g id="n-transformative-experience" class="nd"><circle cx="1787" cy="1204" r="21" fill="#c8e030"/><text x="1792" y="1200" font-size="44">transformative experience</text></g>
<g id="n-nature" class="nd"><circle cx="1557" cy="1265" r="22" fill="#40b878"/><text x="1557" y="1265" font-size="46">nature</text></g>
<g id="n-motivation" class="nd"><circle cx="1759" cy="1283" r="22" fill="#2aa880"/><text x="1762" y="1283" font-size="44">motivation</text></g>
<g id="n-traveller" class="nd"><circle cx="2105" cy="1265" r="18" fill="#2a9a88"/><text x="2105" y="1265" font-size="40">traveller</text></g>
<g id="n-spirituality" class="nd"><circle cx="2654" cy="1269" r="12" fill="#2aa890"/><text x="2656" y="1269" font-size="38">spirituality</text></g>
<g id="n-individual" class="nd"><circle cx="2019" cy="1323" r="15" fill="#5580b0"/><text x="2021" y="1323" font-size="40">individual</text></g>
<g id="n-community" class="nd"><circle cx="920" cy="1337" r="24" fill="#35b375"/><text x="920" y="1337" font-size="45">community</text></g>
<g id="n-host" class="nd"><circle cx="461" cy="1393" r="15" fill="#2aa888"/><text x="461" y="1393" font-size="38">host</text></g>
<g id="n-travel" class="nd"><circle cx="1857" cy="1389" r="38" fill="#6a68c0"/><text x="1857" y="1389" font-size="52">travel</text></g>
<g id="n-outcome" class="nd"><circle cx="1450" cy="1405" r="28" fill="#2a9a88"/><text x="1450" y="1415" font-size="47">outcome</text></g>
<g id="n-student" class="nd"><circle cx="1082" cy="1433" r="24" fill="#5a78c0"/><text x="1082" y="1433" font-size="44">student</text></g>
<g id="n-travel-experience" class="nd"><circle cx="2185" cy="1417" r="19" fill="#6a60c0"/><text x="2187" y="1417" font-size="41">travel experience</text></g>
<g id="n-woman" class="nd"><circle cx="2403" cy="1518" r="18" fill="#3aba78"/><text x="2403" y="1518" font-size="42">woman</text></g>
<g id="n-solo-travel" class="nd"><circle cx="2698" cy="1569" r="15" fill="#f5e61c"/><text x="2698" y="1569" font-size="38">solo travel</text></g>
<g id="n-visitor" class="nd"><circle cx="1084" cy="1571" r="16" fill="#5a80b0"/><text x="1084" y="1571" font-size="38">visitor</text></g>
<g id="n-spiritual-tourism" class="nd"><circle cx="2190" cy="1611" r="14" fill="#3598a0"/><text x="2190" y="1611" font-size="38">spiritual tourism</text></g>
<g id="n-transformative-learning" class="nd"><circle cx="632" cy="1646" r="19" fill="#5a68b5"/><text x="624" y="1648" font-size="41">transformative learning</text></g>
<g id="n-transformative-potential" class="nd"><circle cx="1223" cy="1651" r="14" fill="#3a9a98"/><text x="1227" y="1651" font-size="39">transformative potential</text></g>
<g id="n-focus" class="nd"><circle cx="1745" cy="1665" r="14" fill="#2a9a88"/><text x="1745" y="1665" font-size="38">focus</text></g>
<g id="n-covid" class="nd"><circle cx="1426" cy="1714" r="15" fill="#f0e020"/><text x="1432" y="1714" font-size="38">covid</text></g>
<g id="n-ecotourism" class="nd"><circle cx="129" cy="1806" r="14" fill="#2a9a88"/><text x="127" y="1806" font-size="38">ecotourism</text></g>
<g id="n-natural-environment" class="nd"><circle cx="508" cy="1827" r="15" fill="#f0e020"/><text x="508" y="1827" font-size="36">natural environment</text></g>
<g id="n-antarctica" class="nd"><circle cx="2300" cy="1813" r="13" fill="#35b080"/><text x="2300" y="1813" font-size="38">antarctica</text></g>
<g id="n-family" class="nd"><circle cx="1253" cy="1846" r="14" fill="#2a9090"/><text x="1253" y="1846" font-size="37">family</text></g>
<g id="n-tourism-industry" class="nd"><circle cx="1808" cy="1923" r="12" fill="#3aa890"/><text x="1808" y="1923" font-size="38">tourism industry</text></g>
<g id="n-field" class="nd"><circle cx="995" cy="1960" r="15" fill="#35b070"/><text x="997" y="1958" font-size="38">field</text></g>
<g id="n-host-community" class="nd"><circle cx="1213" cy="1995" r="13" fill="#30b080"/><text x="1213" y="1995" font-size="39">host community</text></g>
<g id="legend" class="lg">
<rect x="2660" y="2023" width="993" height="134" rx="26" fill="#ffffff" stroke="#d2d2d2" stroke-width="3"/>
<rect x="2686" y="2045" width="938" height="44" fill="url(#vir)" stroke="#8a8a8a" stroke-width="2"/>
<g stroke="#8a8a8a" stroke-width="3">
<line x1="2734" y1="2073" x2="2734" y2="2107"/>
<line x1="2944" y1="2073" x2="2944" y2="2107"/>
<line x1="3158" y1="2073" x2="3158" y2="2107"/>
<line x1="3364" y1="2073" x2="3364" y2="2107"/>
<line x1="3574" y1="2073" x2="3574" y2="2107"/>
</g>
<text x="2734" y="2127">2016</text>
<text x="2944" y="2127">2017</text>
<text x="3158" y="2127">2018</text>
<text x="3364" y="2127">2019</text>
<text x="3574" y="2127">2020</text>
</g>
</svg>
